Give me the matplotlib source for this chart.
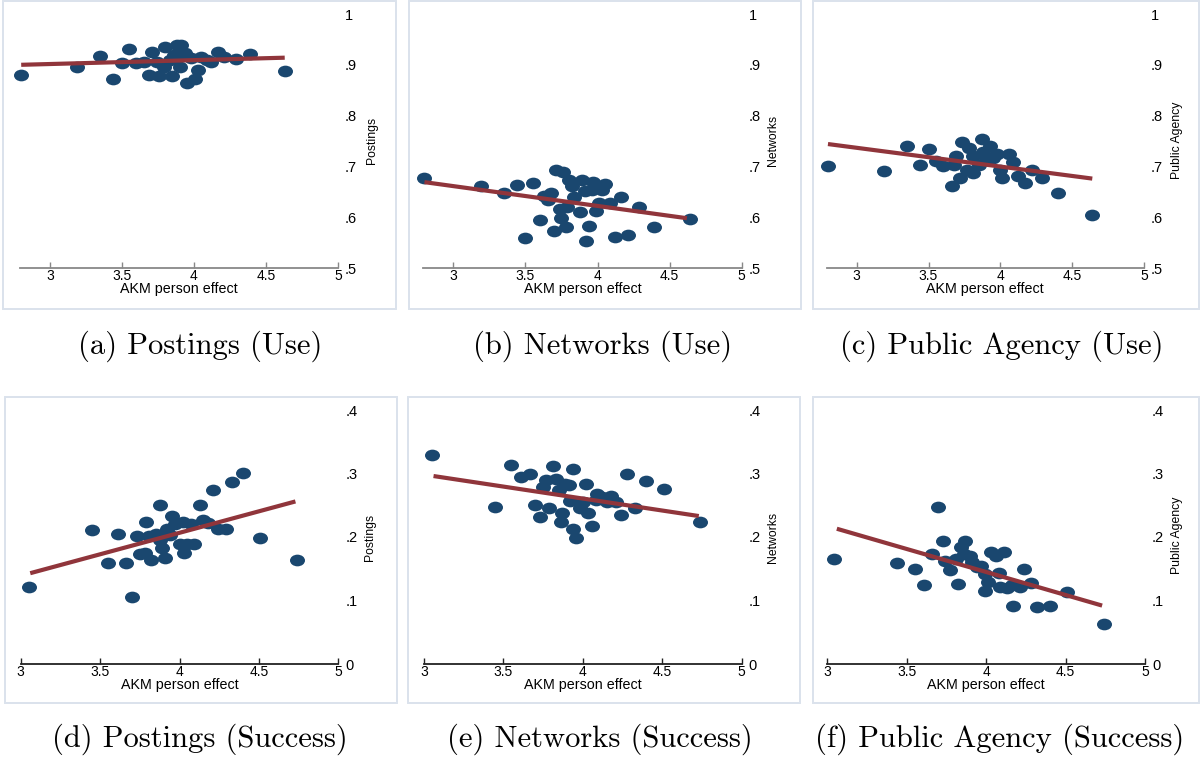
import matplotlib
matplotlib.use("Agg")
import matplotlib.pyplot as plt
from matplotlib.path import Path
from matplotlib.transforms import Affine2D
from matplotlib.patches import Rectangle
from matplotlib.ticker import FixedLocator, FixedFormatter

plt.rcParams['font.family'] = ['Liberation Sans', 'DejaVu Sans']

# ---------------- data ----------------
XTICKS = [3, 3.5, 4, 4.5, 5]
XTICKLABELS = ['3', '3.5', '4', '4.5', '5']
YTICKS_USE = [0.5, 0.6, 0.7, 0.8, 0.9, 1.0]
YTICKLABELS_USE = ['.5', '.6', '.7', '.8', '.9', '1']
YTICKS_SUC = [0.0, 0.1, 0.2, 0.3, 0.4]
YTICKLABELS_SUC = ['0', '.1', '.2', '.3', '.4']
XLABEL = 'AKM person effect'

# (a) Postings (Use)
A_X = [2.80, 3.19, 3.35, 3.44, 3.50, 3.55, 3.60, 3.65, 3.71, 3.69, 3.76, 3.74,
       3.80, 3.85, 3.79, 3.88, 3.91, 3.90, 3.86, 3.94, 3.95, 4.01, 4.03, 4.05,
       3.98, 4.12, 4.17, 4.21, 4.29, 4.39, 4.63, 4.09, 3.83, 3.88]
A_Y = [0.880, 0.896, 0.917, 0.873, 0.903, 0.931, 0.903, 0.906, 0.926, 0.880,
       0.878, 0.906, 0.936, 0.878, 0.896, 0.939, 0.939, 0.896, 0.919, 0.923,
       0.865, 0.872, 0.890, 0.916, 0.913, 0.906, 0.926, 0.915, 0.911, 0.921,
       0.888, 0.910, 0.910, 0.913]
A_FIT_X = [2.80, 4.63]
A_FIT_Y = [0.900, 0.914]

# (b) Networks (Use)
B_X = [2.80, 3.19, 3.35, 3.44, 3.50, 3.55, 3.60, 3.63, 3.66, 3.68, 3.70, 3.71,
       3.74, 3.76, 3.75, 3.78, 3.80, 3.82, 3.79, 3.84, 3.88, 3.89, 3.91, 3.94,
       3.92, 3.97, 3.96, 3.99, 4.01, 4.03, 4.05, 4.09, 4.12, 4.16, 4.21, 4.29,
       4.39, 4.64]
B_Y = [0.677, 0.661, 0.647, 0.663, 0.560, 0.668, 0.594, 0.641, 0.634, 0.647,
       0.572, 0.693, 0.616, 0.688, 0.598, 0.580, 0.674, 0.661, 0.621, 0.639,
       0.611, 0.674, 0.651, 0.582, 0.554, 0.670, 0.654, 0.613, 0.627, 0.654,
       0.666, 0.628, 0.562, 0.639, 0.564, 0.621, 0.580, 0.596]
B_FIT_X = [2.80, 4.62]
B_FIT_Y = [0.669, 0.598]

# (c) Public Agency (Use)
C_X = [2.80, 3.19, 3.35, 3.44, 3.50, 3.55, 3.60, 3.66, 3.69, 3.72, 3.73, 3.68,
       3.77, 3.78, 3.81, 3.85, 3.87, 3.88, 3.93, 3.95, 3.98, 4.00, 4.01, 4.06,
       4.09, 4.12, 4.17, 4.22, 4.29, 4.40, 4.64, 3.81, 3.90]
C_Y = [0.701, 0.690, 0.741, 0.702, 0.735, 0.711, 0.700, 0.661, 0.721, 0.677,
       0.748, 0.703, 0.692, 0.736, 0.720, 0.703, 0.754, 0.729, 0.741, 0.716,
       0.725, 0.692, 0.677, 0.724, 0.708, 0.682, 0.668, 0.693, 0.677, 0.647,
       0.605, 0.687, 0.713]
C_FIT_X = [2.80, 4.64]
C_FIT_Y = [0.744, 0.676]

# (d) Postings (Success)
D_X = [3.05, 3.45, 3.55, 3.61, 3.66, 3.70, 3.73, 3.75, 3.79, 3.78, 3.82, 3.81,
       3.85, 3.88, 3.89, 3.91, 3.88, 3.92, 3.95, 3.94, 3.97, 4.00, 4.02, 4.03,
       4.05, 4.09, 4.07, 4.13, 4.15, 4.18, 4.21, 4.24, 4.29, 4.33, 4.40, 4.51,
       4.74]
D_Y = [0.121, 0.211, 0.159, 0.204, 0.159, 0.106, 0.201, 0.174, 0.223, 0.175,
       0.164, 0.201, 0.204, 0.250, 0.182, 0.167, 0.196, 0.213, 0.233, 0.203,
       0.221, 0.189, 0.224, 0.175, 0.189, 0.189, 0.221, 0.250, 0.227, 0.222,
       0.274, 0.213, 0.213, 0.287, 0.301, 0.198, 0.163]
D_FIT_X = [3.06, 4.73]
D_FIT_Y = [0.143, 0.256]

# (e) Networks (Success)
E_X = [3.05, 3.45, 3.55, 3.61, 3.67, 3.70, 3.73, 3.75, 3.77, 3.79, 3.81, 3.83,
       3.85, 3.87, 3.86, 3.89, 3.91, 3.92, 3.94, 3.94, 3.96, 3.98, 4.00, 4.02,
       4.03, 4.06, 4.08, 4.09, 4.12, 4.15, 4.18, 4.21, 4.24, 4.28, 4.33, 4.40,
       4.51, 4.74]
E_Y = [0.329, 0.248, 0.313, 0.294, 0.299, 0.251, 0.232, 0.279, 0.289, 0.246,
       0.312, 0.292, 0.274, 0.238, 0.223, 0.284, 0.282, 0.256, 0.307, 0.212,
       0.198, 0.245, 0.255, 0.284, 0.238, 0.217, 0.258, 0.267, 0.263, 0.255,
       0.264, 0.255, 0.234, 0.299, 0.246, 0.288, 0.276, 0.223]
E_FIT_X = [3.06, 4.73]
E_FIT_Y = [0.296, 0.233]

# (f) Public Agency (Success)
F_X = [3.04, 3.44, 3.55, 3.61, 3.66, 3.70, 3.73, 3.74, 3.77, 3.82, 3.81, 3.84,
       3.87, 3.86, 3.90, 3.91, 3.94, 3.97, 3.99, 3.99, 4.01, 4.03, 4.06, 4.08,
       4.09, 4.11, 4.13, 4.17, 4.16, 4.21, 4.24, 4.28, 4.32, 4.40, 4.51, 4.74]
F_Y = [0.165, 0.159, 0.150, 0.124, 0.173, 0.248, 0.194, 0.162, 0.148, 0.126,
       0.165, 0.185, 0.193, 0.173, 0.170, 0.160, 0.152, 0.155, 0.142, 0.115,
       0.129, 0.176, 0.170, 0.143, 0.121, 0.176, 0.120, 0.092, 0.125, 0.121,
       0.149, 0.128, 0.090, 0.091, 0.113, 0.063]
F_FIT_X = [3.06, 4.73]
F_FIT_Y = [0.213, 0.092]

YLABELS = ['Postings', 'Networks', 'Public Agency']
CAPTIONS = ['(a) Postings (Use)', '(b) Networks (Use)', '(c) Public Agency (Use)',
            '(d) Postings (Success)', '(e) Networks (Success)',
            '(f) Public Agency (Success)']

# ---------------- layout (pixels) ----------------
W, H = 1201, 759
fig = plt.figure(figsize=(W / 100, H / 100), dpi=100)

def fx(px):
    return px / W

def fy(py):
    return 1 - py / H

NAVY = '#1a476f'
MAROON = '#90353b'
FRAME = '#dbe2ec'

ellipse = Path.unit_circle().transformed(Affine2D().scale(1.0, 0.78))

# frames: (x0, y0, x1, y1) in pixel coordinates (y from top)
frames = [(3, 1, 396, 309), (409, 1, 801, 309), (813, 1, 1199, 309),
          (5, 397, 397, 703), (408, 397, 800, 703), (813, 397, 1199, 703)]
for (x0, y0, x1, y1) in frames:
    fig.add_artist(Rectangle((fx(x0), fy(y1)), fx(x1) - fx(x0), fy(y0) - fy(y1),
                             transform=fig.transFigure, fill=False,
                             edgecolor=FRAME, linewidth=1.4))

panels = [
    dict(x=A_X, y=A_Y, fx_=A_FIT_X, fy_=A_FIT_Y, p3=50, p5=338, xmin=2.79,
         ptop=14, pbot=268, yt=YTICKS_USE, ytl=YTICKLABELS_USE, ylab=YLABELS[0],
         axc='#888888', ylx=372, yly=140),
    dict(x=B_X, y=B_Y, fx_=B_FIT_X, fy_=B_FIT_Y, p3=453.3, p5=741.7, xmin=2.79,
         ptop=14, pbot=268, yt=YTICKS_USE, ytl=YTICKLABELS_USE, ylab=YLABELS[1],
         axc='#888888', ylx=773, yly=140),
    dict(x=C_X, y=C_Y, fx_=C_FIT_X, fy_=C_FIT_Y, p3=856.7, p5=1144, xmin=2.79,
         ptop=14, pbot=268, yt=YTICKS_USE, ytl=YTICKLABELS_USE, ylab=YLABELS[2],
         axc='#888888', ylx=1177, yly=140),
    dict(x=D_X, y=D_Y, fx_=D_FIT_X, fy_=D_FIT_Y, p3=20.7, p5=338.3, xmin=3.0,
         ptop=410, pbot=664, yt=YTICKS_SUC, ytl=YTICKLABELS_SUC, ylab=YLABELS[0],
         axc='#222222', ylx=370, yly=537),
    dict(x=E_X, y=E_Y, fx_=E_FIT_X, fy_=E_FIT_Y, p3=424, p5=741.7, xmin=3.0,
         ptop=410, pbot=664, yt=YTICKS_SUC, ytl=YTICKLABELS_SUC, ylab=YLABELS[1],
         axc='#222222', ylx=773, yly=537),
    dict(x=F_X, y=F_Y, fx_=F_FIT_X, fy_=F_FIT_Y, p3=827.3, p5=1145, xmin=3.0,
         ptop=410, pbot=664, yt=YTICKS_SUC, ytl=YTICKLABELS_SUC, ylab=YLABELS[2],
         axc='#222222', ylx=1177, yly=535),
]

for p in panels:
    per_unit = (p['p5'] - p['p3']) / 2.0
    left_px = p['p3'] - (3.0 - p['xmin']) * per_unit
    ax = fig.add_axes([fx(left_px), fy(p['pbot']), fx(p['p5']) - fx(left_px),
                       fy(p['ptop']) - fy(p['pbot'])])
    ax.set_xlim(p['xmin'], 5.0)
    ax.set_ylim(p['yt'][0], p['yt'][-1])
    ax.patch.set_alpha(0)
    for s in ['top', 'left', 'right']:
        ax.spines[s].set_visible(False)
    ax.spines['bottom'].set_color(p['axc'])
    ax.spines['bottom'].set_linewidth(1.3)

    ax.plot(p['x'], p['y'], linestyle='none', marker=ellipse, markersize=10.8,
            markerfacecolor=NAVY, markeredgewidth=0, clip_on=False, zorder=2)
    ax.plot(p['fx_'], p['fy_'], color=MAROON, linewidth=3.0,
            solid_capstyle='butt', clip_on=False, zorder=3)

    ax.xaxis.set_major_locator(FixedLocator(XTICKS))
    ax.xaxis.set_major_formatter(FixedFormatter(XTICKLABELS))
    ax.tick_params(axis='x', direction='in', length=4, width=1.0,
                   color=p['axc'], labelsize=10, pad=0.5, labelcolor='black')

    ax.yaxis.tick_right()
    ax.yaxis.set_major_locator(FixedLocator(p['yt']))
    ax.yaxis.set_major_formatter(FixedFormatter(p['ytl']))
    ax.tick_params(axis='y', which='both', length=0, labelsize=10.5, pad=5,
                   labelright=True, labelleft=False)

    # x title
    fig.text(fx((left_px + p['p5']) / 2), fy(p['pbot'] + 21.5), XLABEL,
             ha='center', va='center', fontsize=10.3)
    # y title
    fig.text(fx(p['ylx']), fy(p['yly']), p['ylab'], rotation=90,
             ha='center', va='center', fontsize=8.8)

caption_pos = [(200, 354), (603, 354), (1002, 354),
               (200, 747), (600, 747), (1000, 747)]
for (cx, cy), txt in zip(caption_pos, CAPTIONS):
    fig.text(fx(cx), fy(cy), txt, ha='center', va='baseline',
             fontsize=22, family=['cmr10', 'DejaVu Serif'])

fig.savefig('out.png', dpi=100)
